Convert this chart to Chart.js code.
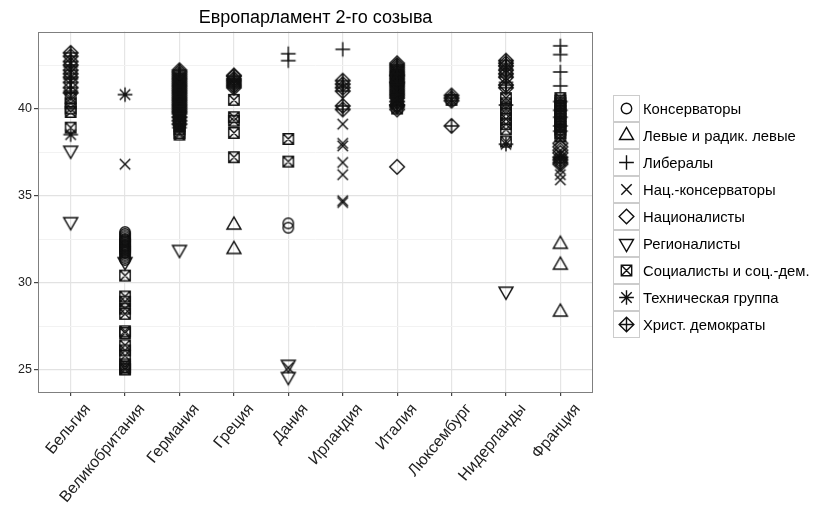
<!DOCTYPE html>
<html>
<head>
<meta charset="utf-8">
<script src="https://cdn.jsdelivr.net/npm/chart.js@4"></script>
<style>
  body { margin: 0; background: #fff; }
  #wrap { position: relative; width: 817px; height: 514px; }
  #legend { position: absolute; left: 613px; top: 95px; font: 14.8px "Liberation Sans", Arial, sans-serif; color: #000; }
  .row { display: flex; align-items: center; height: 27px; }
  .row span { margin-left: 3px; white-space: nowrap; }
</style>
</head>
<body>
<div id="wrap">
  <canvas id="grafico" width="817" height="514"></canvas>
  <div id="legend"></div>
</div>
<script>
// страны (ось X)
const countries = ["Бельгия", "Великобритания", "Германия", "Греция", "Дания",
                   "Ирландия", "Италия", "Люксембург", "Нидерланды", "Франция"];

// деления оси Y
const yMajorTicks = [25, 30, 35, 40];
const yMinorTicks = [27.5, 32.5, 37.5, 42.5];

// значения по группам
const conservatives = {
    "Великобритания": [32.9, 32.8, 32.7, 32.6, 32.5, 32.45, 32.4, 32.35, 32.3, 32.2, 32.15, 32.1, 32.05,
                       32.0, 31.95, 31.9, 31.85, 31.8, 31.75, 31.7, 31.6, 31.5, 31.4, 31.3],
    "Дания": [33.4, 33.15]
};
const leftists = {
    "Греция": [33.3, 31.9],
    "Франция": [32.2, 31.0, 28.3]
};
const liberals = {
    "Бельгия": [42.4, 41.7, 41.0],
    "Греция": [41.6],
    "Дания": [43.15, 42.75],
    "Ирландия": [43.4],
    "Италия": [42.0, 41.4, 40.8],
    "Нидерланды": [42.3, 41.9, 41.5, 40.2],
    "Франция": [43.6, 43.1, 42.1, 41.3, 40.4, 39.9, 39.5, 39.0, 38.7]
};
const natConservatives = {
    "Великобритания": [36.8],
    "Дания": [25.1],
    "Ирландия": [39.1, 38.0, 37.85, 36.9, 36.2, 34.7, 34.6],
    "Франция": [38.2, 37.4, 37.0, 36.5, 36.2, 35.9]
};
const nationalists = {
    "Германия": [42.1],
    "Греция": [41.9],
    "Италия": [42.6, 42.3, 41.9, 41.5, 40.2, 39.95, 36.65],
    "Франция": [38.0, 37.8, 37.6, 37.45, 36.8]
};
const regionalists = {
    "Бельгия": [37.6, 33.5],
    "Великобритания": [31.2],
    "Германия": [31.9],
    "Дания": [25.3, 24.6],
    "Нидерланды": [29.5]
};
const socialists = {
    "Бельгия": [40.6, 40.3, 40.0, 39.8, 38.9],
    "Великобритания": [30.4, 29.2, 28.9, 28.5, 28.2, 27.2, 27.1, 26.4, 26.1, 25.8, 25.3, 25.15, 25.05, 25.0],
    "Германия": [41.4, 41.0, 40.9, 40.8, 40.6, 40.5, 40.4, 40.2, 40.1, 40.0, 39.8, 39.7, 39.6, 39.4,
                 39.3, 39.2, 39.0, 38.8, 38.6, 38.5],
    "Греция": [40.5, 39.5, 39.3, 38.6, 37.2],
    "Дания": [38.25, 36.95],
    "Италия": [41.8, 41.2, 40.9, 40.5, 40.3, 40.0],
    "Люксембург": [40.5],
    "Нидерланды": [40.6, 40.3, 40.0, 39.7, 39.4, 39.1, 38.8, 38.1],
    "Франция": [40.6, 40.45, 40.3, 40.15, 40.0, 39.85, 39.7, 39.55, 39.4, 39.25, 39.1, 38.95, 38.8, 38.6, 38.4]
};
const technical = {
    "Бельгия": [38.5],
    "Великобритания": [40.8],
    "Германия": [39.5, 38.9],
    "Нидерланды": [37.95],
    "Франция": [37.15]
};
const christianDemocrats = {
    "Бельгия": [43.2, 43.0, 42.7, 42.5, 42.2, 42.0, 41.8, 41.5, 41.2, 40.9],
    "Германия": [42.2, 42.0, 41.9, 41.8, 41.7, 41.6, 41.5, 41.4, 41.3, 41.2, 41.1, 41.0, 40.9, 40.8,
                 40.7, 40.6, 40.5, 40.4, 40.3, 40.2, 40.1, 40.0, 39.9, 39.8, 39.7, 39.5, 39.3, 39.1],
    "Греция": [41.85, 41.7, 41.6, 41.5, 41.4, 41.3, 41.2],
    "Ирландия": [41.6, 41.4, 41.2, 41.0, 40.15, 39.95],
    "Италия": [42.5, 42.4, 42.2, 42.1, 42.0, 41.9, 41.8, 41.7, 41.6, 41.5, 41.4, 41.3, 41.2, 41.1,
               41.0, 40.9, 40.8, 40.7, 40.6, 40.4, 40.2, 40.1],
    "Люксембург": [40.75, 40.6, 40.45, 39.0],
    "Нидерланды": [42.75, 42.6, 42.45, 42.2, 42.0, 41.8, 41.35, 41.2],
    "Франция": [37.2, 37.05, 36.9]
};

const groups = [
    ["Консерваторы", "circle", conservatives],
    ["Левые и радик. левые", "up", leftists],
    ["Либералы", "plus", liberals],
    ["Нац.-консерваторы", "x", natConservatives],
    ["Националисты", "diamond", nationalists],
    ["Регионалисты", "down", regionalists],
    ["Социалисты и соц.-дем.", "boxX", socialists],
    ["Техническая группа", "asterisk", technical],
    ["Христ. демократы", "diamondPlus", christianDemocrats]
];

// рисует значок в стиле pch из R
function drawShape(g, shape, cx, cy) {
    const R = 5.2, s = Math.SQRT2 * R;
    g.strokeStyle = "#111";
    g.lineWidth = 1.4;
    g.beginPath();
    if (shape === "circle") g.arc(cx, cy, R, 0, 2 * Math.PI);
    if (shape === "up" || shape === "down") {
        const d = shape === "up" ? 1 : -1;
        g.moveTo(cx, cy - d * 1.555 * R);
        g.lineTo(cx + 1.347 * R, cy + d * 0.778 * R);
        g.lineTo(cx - 1.347 * R, cy + d * 0.778 * R);
        g.closePath();
    }
    if (shape === "plus" || shape === "asterisk" || shape === "diamondPlus") {
        g.moveTo(cx - s, cy); g.lineTo(cx + s, cy);
        g.moveTo(cx, cy - s); g.lineTo(cx, cy + s);
    }
    if (shape === "x" || shape === "asterisk" || shape === "boxX") {
        g.moveTo(cx - R, cy - R); g.lineTo(cx + R, cy + R);
        g.moveTo(cx - R, cy + R); g.lineTo(cx + R, cy - R);
    }
    if (shape === "boxX") g.rect(cx - R, cy - R, 2 * R, 2 * R);
    if (shape === "diamond" || shape === "diamondPlus") {
        g.moveTo(cx, cy - s); g.lineTo(cx + s, cy);
        g.lineTo(cx, cy + s); g.lineTo(cx - s, cy);
        g.closePath();
    }
    g.stroke();
}

function makeMarker(shape) {
    const c = document.createElement("canvas");
    c.width = 20; c.height = 20;
    drawShape(c.getContext("2d"), shape, 10, 10);
    return c;
}

const datasets = groups.map(([label, shape, values]) => {
    const pts = [];
    Object.keys(values).forEach(country => {
        values[country].forEach(v => pts.push({ x: countries.indexOf(country) + 1, y: v }));
    });
    return {
        label: label,
        data: pts,
        pointStyle: makeMarker(shape),
        pointRadius: 5,
        pointHoverRadius: 5
    };
});

// легенда справа
const legend = document.getElementById("legend");
groups.forEach(([label, shape]) => {
    const row = document.createElement("div");
    row.className = "row";
    const key = document.createElement("canvas");
    key.width = 27; key.height = 27;
    const g = key.getContext("2d");
    g.fillStyle = "#fff";
    g.fillRect(0, 0, 27, 27);
    g.strokeStyle = "#cccccc";
    g.lineWidth = 1;
    g.strokeRect(0.5, 0.5, 26, 26);
    drawShape(g, shape, 13.5, 13.5);
    const txt = document.createElement("span");
    txt.textContent = label;
    row.appendChild(key);
    row.appendChild(txt);
    legend.appendChild(row);
});

const panelBorder = {
    id: "panelBorder",
    afterDraw(chart) {
        const { ctx, chartArea: a } = chart;
        ctx.save();
        ctx.strokeStyle = "#7f7f7f";
        ctx.lineWidth = 1;
        ctx.strokeRect(Math.round(a.left) + 0.5, Math.round(a.top) + 0.5,
                       Math.round(a.right - a.left) - 1, Math.round(a.bottom - a.top));
        ctx.restore();
    }
};

const isMajor = v => yMajorTicks.includes(v);

new Chart(document.getElementById("grafico"), {
    type: "scatter",
    data: { datasets: datasets },
    options: {
        responsive: false,
        animation: false,
        events: [],
        layout: { padding: { top: 0, right: 224, bottom: 0, left: 0 } },
        plugins: {
            legend: { display: false },
            tooltip: { enabled: false },
            title: {
                display: true,
                text: "Европарламент 2-го созыва",
                fullSize: false,
                color: "#000",
                font: { family: "'Liberation Sans', Arial, sans-serif", size: 18, weight: "normal" },
                padding: { top: 7, bottom: 3 }
            }
        },
        scales: {
            x: {
                type: "linear",
                min: 0.4,
                max: 10.6,
                afterBuildTicks: s => { s.ticks = countries.map((c, i) => ({ value: i + 1 })); },
                afterFit: s => { s.height = 122; },
                ticks: {
                    callback: v => countries[v - 1],
                    autoSkip: false,
                    minRotation: 50,
                    maxRotation: 50,
                    padding: 4,
                    labelOffset: 17,
                    color: "#222",
                    font: { family: "'Liberation Sans', Arial, sans-serif", size: 16 }
                },
                grid: { color: "#e5e5e5", lineWidth: 1.2, tickColor: "#444", tickLength: 4 },
                border: { display: false }
            },
            y: {
                min: 23.71,
                max: 44.42,
                afterBuildTicks: s => {
                    s.ticks = yMajorTicks.concat(yMinorTicks).sort((a, b) => a - b).map(v => ({ value: v }));
                },
                afterFit: s => { s.width = 38; },
                ticks: {
                    callback: v => isMajor(v) ? String(v) : "",
                    padding: 2,
                    color: "#222",
                    font: { family: "'Liberation Sans', Arial, sans-serif", size: 12.5 }
                },
                grid: {
                    color: c => isMajor(c.tick.value) ? "#e2e2e2" : "#f2f2f2",
                    lineWidth: c => isMajor(c.tick.value) ? 1.2 : 1,
                    tickColor: c => isMajor(c.tick.value) ? "#444" : "rgba(0,0,0,0)",
                    tickLength: 4
                },
                border: { display: false }
            }
        }
    },
    plugins: [panelBorder]
});
</script>
</body>
</html>
